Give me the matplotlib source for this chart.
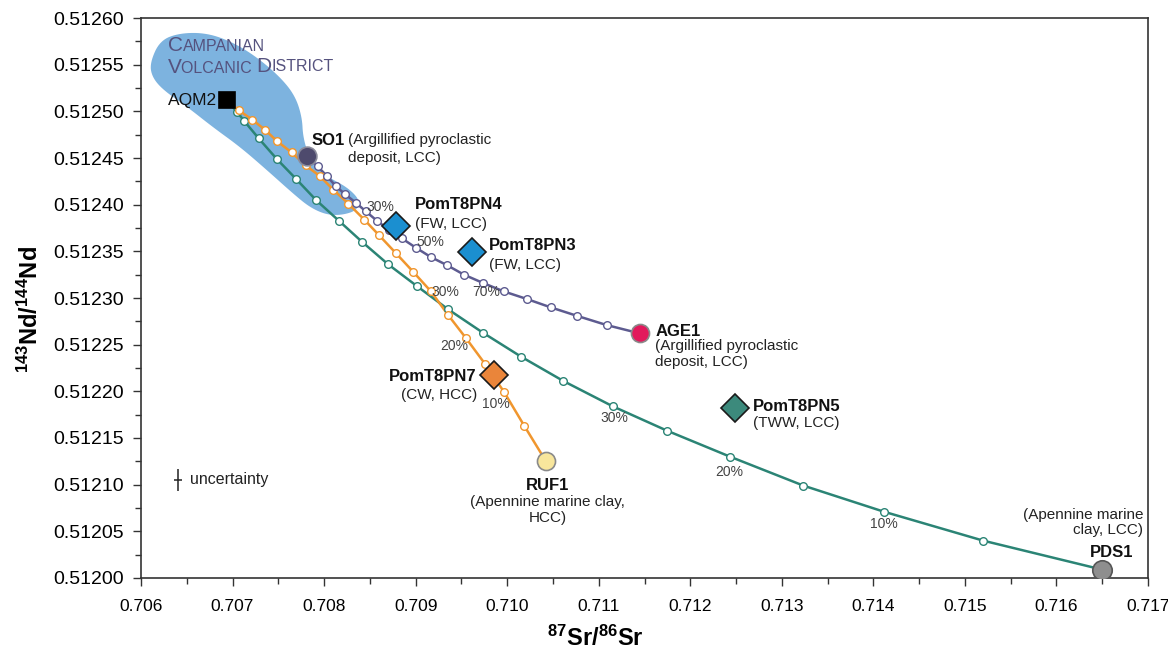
import numpy as np
import matplotlib
matplotlib.use("Agg")
import matplotlib.pyplot as plt
from matplotlib.patches import Polygon
from matplotlib.ticker import MultipleLocator, FormatStrFormatter

plt.rcParams['font.family'] = ['Liberation Sans', 'DejaVu Sans']
plt.rcParams['mathtext.fontset'] = 'custom'
plt.rcParams['mathtext.rm'] = 'Liberation Sans'
plt.rcParams['mathtext.bf'] = 'Liberation Sans:bold'

# end members and samples (87Sr/86Sr, 143Nd/144Nd)
samples = ['AQM2', 'SO1', 'PomT8PN4', 'PomT8PN3', 'AGE1', 'PomT8PN7', 'PomT8PN5', 'RUF1', 'PDS1']
sr = [0.70694, 0.70781, 0.708785, 0.709616, 0.711451, 0.709856, 0.712488, 0.710424, 0.716497]
nd = [0.512512, 0.512452, 0.512377, 0.512349, 0.512262, 0.512217, 0.512182, 0.512125, 0.512009]

# mixing curves
mix_pds_sr = [0.70694, 0.707052, 0.707125, 0.707286, 0.707483, 0.70769, 0.707912, 0.708159,
              0.708417, 0.708701, 0.709011, 0.709353, 0.709732, 0.710154, 0.710615, 0.711152,
              0.711742, 0.712434, 0.713235, 0.714116, 0.7152, 0.716497]
mix_pds_nd = [0.512512, 0.512499, 0.51249, 0.512471, 0.512449, 0.512428, 0.512405, 0.512383,
              0.51236, 0.512336, 0.512313, 0.512288, 0.512263, 0.512237, 0.512211, 0.512184,
              0.512158, 0.51213, 0.512099, 0.512071, 0.51204, 0.512009]

mix_ruf_sr = [0.70694, 0.70707, 0.707216, 0.707358, 0.707486, 0.707646, 0.707799, 0.70795,
              0.708101, 0.708266, 0.708439, 0.708603, 0.708785, 0.708974, 0.709168, 0.709353,
              0.70955, 0.709761, 0.709968, 0.710187, 0.710424]
mix_ruf_nd = [0.512512, 0.512501, 0.512491, 0.51248, 0.512468, 0.512456, 0.512442, 0.512431,
              0.512416, 0.512401, 0.512384, 0.512367, 0.512348, 0.512328, 0.512307, 0.512282,
              0.512257, 0.512229, 0.512199, 0.512163, 0.512125]

mix_age_sr = [0.707813, 0.70793, 0.708028, 0.708127, 0.708232, 0.708348, 0.708454, 0.708575,
              0.708709, 0.708848, 0.709001, 0.709164, 0.709346, 0.709528, 0.709739, 0.709965,
              0.710213, 0.710475, 0.710759, 0.711087, 0.711451]
mix_age_nd = [0.512452, 0.512441, 0.512431, 0.51242, 0.512411, 0.512402, 0.512393, 0.512383,
              0.512373, 0.512364, 0.512354, 0.512344, 0.512335, 0.512325, 0.512316, 0.512307,
              0.512299, 0.51229, 0.512281, 0.512271, 0.512262]

# percentage labels
pct_text = ['30%', '50%', '70%', '30%', '20%', '10%', '30%', '20%', '10%']
pct_sr = [0.708611, 0.709157, 0.709768, 0.709328, 0.709419, 0.709874, 0.711166, 0.712423, 0.714116]
pct_nd = [0.512398, 0.51236, 0.512306, 0.512306, 0.512249, 0.512186, 0.512171, 0.512114, 0.512058]

# Campanian Volcanic District field outline
cvd_sr = [0.706098, 0.706208, 0.706426, 0.706721, 0.707005, 0.707267, 0.707518, 0.707682,
          0.707759, 0.70777, 0.707846, 0.708032, 0.70825, 0.708392, 0.708359, 0.708206,
          0.708032, 0.707846, 0.70766, 0.707376, 0.707081, 0.706786, 0.706502, 0.70624, 0.70612]
cvd_nd = [0.512552, 0.512576, 0.512584, 0.512584, 0.512574, 0.512558, 0.512537, 0.512517,
          0.512494, 0.512472, 0.512448, 0.51243, 0.512419, 0.512405, 0.512394, 0.512389,
          0.512389, 0.512397, 0.512412, 0.512437, 0.512462, 0.512483, 0.512505, 0.512523, 0.512537]


def smooth_closed(x, y, n=3):
    # chaikin corner cutting for a rounded outline
    p = np.column_stack([x, y])
    for _ in range(n):
        q = np.roll(p, -1, axis=0)
        a = 0.75 * p + 0.25 * q
        b = 0.25 * p + 0.75 * q
        p = np.empty((2 * len(a), 2))
        p[0::2] = a
        p[1::2] = b
    return p


fig = plt.figure(figsize=(11.68, 6.58), dpi=100)
ax = fig.add_axes([0.1207, 0.1216, 0.8622, 0.851])

ax.add_patch(Polygon(smooth_closed(cvd_sr, cvd_nd), closed=True, fc='#7db3df', ec='none', zorder=1))

green = '#2b8475'
orange = '#f0962e'
purple = '#5d5b90'
ms_small = 5.5
ax.plot(mix_pds_sr, mix_pds_nd, '-', color=green, lw=1.8, zorder=2)
ax.plot(mix_pds_sr[1:-1], mix_pds_nd[1:-1], 'o', ms=ms_small, mfc='white', mec=green, mew=1, zorder=3)
ax.plot(mix_ruf_sr, mix_ruf_nd, '-', color=orange, lw=1.8, zorder=2)
ax.plot(mix_ruf_sr[1:-1], mix_ruf_nd[1:-1], 'o', ms=ms_small, mfc='white', mec=orange, mew=1, zorder=3)
ax.plot(mix_age_sr, mix_age_nd, '-', color=purple, lw=1.8, zorder=2)
ax.plot(mix_age_sr[1:-1], mix_age_nd[1:-1], 'o', ms=ms_small, mfc='white', mec=purple, mew=1, zorder=3)

for t, xx, yy in zip(pct_text, pct_sr, pct_nd):
    ax.text(xx, yy, t, fontsize=10, color='#444444', ha='center', va='center', zorder=4)

styles = {
    'AQM2': dict(marker='s', ms=11, mfc='black', mec='black'),
    'SO1': dict(marker='o', ms=13.5, mfc='#4e4a6d', mec='#8a8a9a'),
    'PomT8PN4': dict(marker='D', ms=14.5, mfc='#1b8fd0', mec='#1a1a1a'),
    'PomT8PN3': dict(marker='D', ms=14.5, mfc='#1b8fd0', mec='#1a1a1a'),
    'AGE1': dict(marker='o', ms=13, mfc='#e2195c', mec='#8a8a8a'),
    'PomT8PN7': dict(marker='D', ms=14.5, mfc='#ea853a', mec='#1a1a1a'),
    'PomT8PN5': dict(marker='D', ms=14.5, mfc='#3c8a7c', mec='#1a1a1a'),
    'RUF1': dict(marker='o', ms=13, mfc='#f8e69c', mec='#8a8a8a'),
    'PDS1': dict(marker='o', ms=14, mfc='#8e8e8e', mec='#555555'),
}
for name, xx, yy in zip(samples, sr, nd):
    ax.plot(xx, yy, linestyle='none', mew=1.2, zorder=5, **styles[name])

bold = dict(fontsize=12, fontweight='bold', color='#111111', zorder=6)
reg = dict(fontsize=11, color='#222222', zorder=6)
ax.text(0.70683, 0.512512, 'AQM2', ha='right', va='center', fontsize=12.5, color='#111111')
ax.text(0.707868, 0.512469, 'SO1', ha='left', va='center', **bold)
ax.text(0.708260, 0.512469, '(Argillified pyroclastic', ha='left', va='center', **reg)
ax.text(0.708260, 0.51245, 'deposit, LCC)', ha='left', va='center', **reg)
ax.text(0.708990, 0.5124, 'PomT8PN4', ha='left', va='center', **bold)
ax.text(0.708990, 0.512379, '(FW, LCC)', ha='left', va='center', **reg)
ax.text(0.709801, 0.512356, 'PomT8PN3', ha='left', va='center', **bold)
ax.text(0.709801, 0.512335, '(FW, LCC)', ha='left', va='center', **reg)
ax.text(0.711620, 0.512264, 'AGE1', ha='left', va='center', **bold)
ax.text(0.711620, 0.512249, '(Argillified pyroclastic', ha='left', va='center', **reg)
ax.text(0.711620, 0.512231, 'deposit, LCC)', ha='left', va='center', **reg)
ax.text(0.70967, 0.512216, 'PomT8PN7', ha='right', va='center', **bold)
ax.text(0.70967, 0.512196, '(CW, HCC)', ha='right', va='center', **reg)
ax.text(0.712680, 0.512184, 'PomT8PN5', ha='left', va='center', **bold)
ax.text(0.712680, 0.512166, '(TWW, LCC)', ha='left', va='center', **reg)
ax.text(0.710440, 0.512099, 'RUF1', ha='center', va='center', **bold)
ax.text(0.710440, 0.512081, '(Apennine marine clay,', ha='center', va='center', **reg)
ax.text(0.710440, 0.512064, 'HCC)', ha='center', va='center', **reg)
ax.text(0.716606, 0.512027, 'PDS1', ha='center', va='center', **bold)
ax.text(0.716950, 0.512068, '(Apennine marine', ha='right', va='center', **reg)
ax.text(0.716950, 0.512051, 'clay, LCC)', ha='right', va='center', **reg)

# Campanian Volcanic District label in small caps
cvd_col = '#55527e'
for line, yy in [(['C', 'AMPANIAN'], 0.51256), (['V', 'OLCANIC ', 'D', 'ISTRICT'], 0.512537)]:
    prev = ax.text(0.706290, yy, line[0], fontsize=15, color=cvd_col, ha='left', va='bottom', zorder=6)
    for k, piece in enumerate(line[1:]):
        big = (k % 2 == 1)
        prev = ax.annotate(piece, xy=(1, 0), xycoords=prev, xytext=(0, 0 if big else 0.9),
                           textcoords='offset points', fontsize=15 if big else 11.5,
                           color=cvd_col, ha='left', va='bottom', zorder=6)

# uncertainty
ax.errorbar(0.706404, 0.512105, xerr=0.00004, yerr=0.000012, fmt='none', ecolor='#222222',
            elinewidth=1.1, capsize=0)
ax.text(0.706540, 0.512105, 'uncertainty', ha='left', va='center', fontsize=11.5, color='#222222')

ax.set_xlim(0.706, 0.717)
ax.set_ylim(0.5120, 0.5126)
ax.xaxis.set_major_locator(MultipleLocator(0.001))
ax.xaxis.set_minor_locator(MultipleLocator(0.0005))
ax.yaxis.set_major_locator(MultipleLocator(0.00005))
ax.yaxis.set_minor_locator(MultipleLocator(0.000025))
ax.xaxis.set_major_formatter(FormatStrFormatter('%.3f'))
ax.yaxis.set_major_formatter(FormatStrFormatter('%.5f'))
ax.tick_params(which='both', direction='out', top=False, right=False, width=1, color='#333333')
ax.tick_params(which='major', length=6)
ax.tick_params(which='minor', length=4)
ax.tick_params(axis='y', labelsize=14, pad=6)
ax.tick_params(axis='x', labelsize=12.5, pad=9)
for sp in ax.spines.values():
    sp.set_linewidth(1.2)
    sp.set_color('#333333')

ax.set_xlabel(r'$\mathbf{^{87}Sr/^{86}Sr}$', fontsize=17)
ax.set_ylabel(r'$\mathbf{^{143}Nd/^{144}Nd}$', fontsize=17)
ax.xaxis.set_label_coords(0.451, -0.085)
ax.yaxis.set_label_coords(-0.097, 0.48)

fig.savefig('out.png', dpi=100)
